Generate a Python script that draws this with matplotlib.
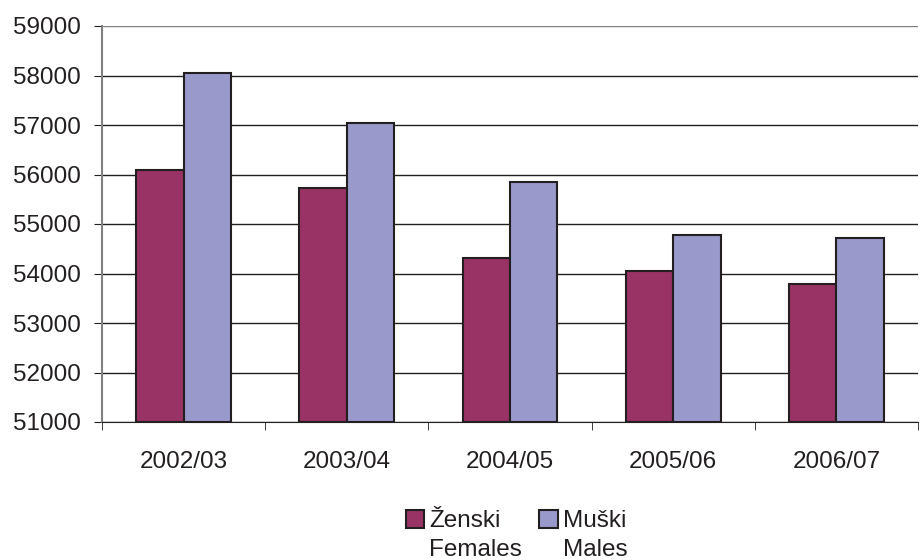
import numpy as np
import matplotlib.pyplot as plt

plt.rcParams['font.family'] = ['Liberation Sans', 'DejaVu Sans']

years = ['2002/03', '2003/04', '2004/05', '2005/06', '2006/07']
females = [56100, 55720, 54320, 54050, 53790]
males = [58050, 57040, 55840, 54780, 54720]
labels_top = ['Ženski', 'Muški']
labels_bottom = ['Females', 'Males']

fs = 17.5
fig = plt.figure(figsize=(9.22, 5.6), dpi=100)
ax = fig.add_axes([102 / 922, 1 - 422 / 560, (918 - 102) / 922, (422 - 26) / 560])

x = np.arange(len(years))
w = 0.29
ax.bar(x - w / 2, np.array(females) - 51000, w, bottom=51000, color='#993366',
       edgecolor='#231f20', linewidth=1.5, label=labels_top[0], zorder=3)
ax.bar(x + w / 2, np.array(males) - 51000, w, bottom=51000, color='#9999cc',
       edgecolor='#231f20', linewidth=1.5, label=labels_top[1], zorder=3)

ax.set_ylim(51000, 59000)
ax.set_xlim(-0.5, len(years) - 0.5)
ax.set_yticks(np.arange(51000, 59001, 1000))
ax.set_xticks(x)
ax.set_xticklabels(years)
ax.set_xticks(np.arange(-0.5, len(years)), minor=True)
ax.tick_params(axis='x', which='major', length=0, pad=21, labelsize=fs, labelcolor='#231f20')
ax.tick_params(axis='x', which='minor', length=6, color='#231f20')
ax.tick_params(axis='y', length=6, color='#231f20', labelsize=fs, pad=9, labelcolor='#231f20')
ax.grid(axis='y', color='#231f20', linewidth=1.0, zorder=0)
ax.get_ygridlines()[-1].set_color('#808080')
for s in ['top', 'right']:
    ax.spines[s].set_visible(False)
ax.spines['left'].set_color('#808080')
ax.spines['bottom'].set_color('#231f20')
ax.spines['left'].set_linewidth(1.5)

leg = fig.legend(loc='center', bbox_to_anchor=(516 / 922, 1 - 521 / 560), ncol=2,
                 frameon=False, fontsize=fs, handlelength=0.75, handleheight=0.75,
                 handletextpad=0.2, columnspacing=1.6, labelcolor='#231f20')
for p in leg.get_patches():
    p.set_linewidth(1.5)

fig.canvas.draw()
inv = fig.transFigure.inverted()
for t, sub in zip(leg.get_texts(), labels_bottom):
    bb = t.get_window_extent()
    x0, y0 = inv.transform((bb.x0, bb.y0))
    fig.text(x0, y0 - 7 / 560, sub, fontsize=fs, color='#231f20', ha='left', va='top')

fig.savefig('out.png', dpi=100)
